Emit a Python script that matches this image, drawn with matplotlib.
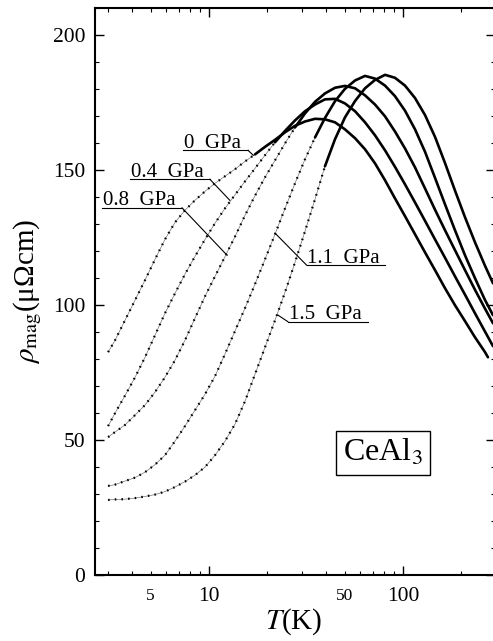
import matplotlib
matplotlib.use('Agg')
import matplotlib.pyplot as plt
from matplotlib.ticker import FixedLocator, FixedFormatter, NullFormatter

plt.rcParams['font.family'] = ['Liberation Serif', 'DejaVu Serif']
plt.rcParams['mathtext.fontset'] = 'stix'

# ---------------- data ----------------
T_grid = [3.02, 3.28, 3.69, 4.16, 4.68, 5.27, 5.93, 6.68, 7.52, 8.47, 9.54, 10.74,
          12.09, 13.61, 15.33, 17.26, 19.44, 21.89, 24.65, 27.76, 31.25, 35.2, 39.6,
          44.6, 50.2, 56.6, 63.7, 71.7, 80.8, 90.9, 102.4, 115.3, 129.8, 146.2, 164.6,
          185.3, 208.7, 235.0, 264.7, 291.0]
T_0GPa = T_grid[:-1] + [274.0]

rho_0GPa = [82.6, 87.0, 94.4, 101.9, 109.3, 117.0, 124.4, 130.7, 135.2, 138.9, 142.2,
            145.2, 147.8, 150.4, 153.3, 155.9, 158.7, 161.3, 164.1, 166.5, 168.1, 169.1,
            168.9, 167.8, 165.2, 161.9, 157.8, 152.6, 146.3, 139.6, 133.0, 126.3, 119.6,
            113.0, 106.3, 100.0, 94.1, 88.1, 82.6, 80.7]
rho_04GPa = [55.2, 60.0, 66.5, 73.3, 80.7, 88.9, 97.0, 104.4, 111.5, 118.1, 124.4, 130.4,
             135.9, 140.9, 145.9, 150.7, 155.6, 160.4, 164.6, 168.5, 171.9, 174.4, 176.3,
             176.5, 174.8, 171.9, 167.8, 163.0, 157.4, 151.3, 144.8, 138.1, 131.3, 124.4,
             117.6, 110.7, 103.9, 97.0, 90.2, 84.8]
rho_08GPa = [51.1, 53.0, 55.6, 59.3, 63.0, 67.8, 73.3, 79.6, 87.0, 95.2, 103.3, 110.7,
             118.0, 125.4, 133.3, 140.6, 147.4, 153.7, 160.0, 165.9, 171.1, 175.4, 178.5,
             180.6, 181.3, 180.4, 177.8, 174.4, 170.0, 164.4, 158.1, 151.1, 143.3, 135.4,
             127.8, 120.4, 113.0, 105.7, 98.7, 93.3]
rho_11GPa = [33.0, 33.5, 34.8, 36.1, 38.1, 40.9, 44.4, 49.6, 55.2, 61.1, 67.0, 73.7,
             81.9, 90.4, 98.9, 107.8, 117.0, 126.3, 135.9, 145.2, 154.1, 162.2, 169.4,
             175.6, 180.2, 183.3, 185.0, 184.0, 181.4, 177.5, 172.1, 165.2, 156.9, 147.2,
             137.4, 127.8, 118.5, 110.0, 101.9, 96.3]
rho_15GPa = [27.8, 28.0, 28.1, 28.5, 29.1, 29.8, 30.9, 32.6, 34.6, 37.0, 40.0, 44.4,
             49.6, 55.9, 64.4, 74.4, 84.4, 94.4, 104.8, 115.9, 127.4, 139.3, 151.5,
             161.5, 169.6, 175.7, 180.4, 183.5, 185.4, 184.3, 181.4, 176.8, 170.5, 162.4,
             152.7, 142.5, 132.6, 123.3, 114.6, 108.1]

pressures = ['0  GPa', '0.4  GPa', '0.8  GPa', '1.1  GPa', '1.5  GPa']
curves_T = [T_0GPa, T_grid, T_grid, T_grid, T_grid]
curves_rho = [rho_0GPa, rho_04GPa, rho_08GPa, rho_11GPa, rho_15GPa]
# temperature above which the curve is drawn as a continuous line
T_solid = [17.26, 21.89, 27.76, 35.2, 39.6]

x_major = [10, 100]
x_minor = [2, 3, 4, 5, 6, 7, 8, 9, 20, 30, 40, 50, 60, 70, 80, 90, 200]
x_minor_labels = ['', '', '', '5', '', '', '', '', '', '', '', '50', '', '', '', '', '']
y_major = [0, 50, 100, 150, 200]

# ---------------- figure ----------------
fig = plt.figure(figsize=(4.93, 6.41), dpi=100)
ax = fig.add_axes([0.1917, 0.1030, 0.8124, 0.8838])
ax.set_xscale('log')
ax.set_xlim(2.57, 298)
ax.set_ylim(0, 210)

for T, rho, ts in zip(curves_T, curves_rho, T_solid):
    Td = [t for t in T if t <= ts]
    rd = [r for t, r in zip(T, rho) if t <= ts]
    Ts = [t for t in T if t >= ts]
    rs = [r for t, r in zip(T, rho) if t >= ts]
    ax.plot(Td, rd, color='0.4', lw=0.45)
    ax.plot(Td, rd, color='black', lw=1.6, linestyle=(0, (0.7, 2.3)))
    ax.plot(Ts, rs, color='black', lw=1.9, solid_capstyle='round', solid_joinstyle='round')

# pressure labels: (T_left, T_right, rho_underline, leader_start_T, leader_end_T, leader_end_rho)
label_layout = [
    (7.35, 15.9, 157.4, 15.9, 16.9, 155.6),
    (3.92, 10.1, 146.7, 10.1, 12.8, 138.9),
    (2.81, 7.26, 136.1, 7.26, 12.4, 118.5),
    (31.9, 80.6, 114.8, 31.9, 21.9, 126.7),
    (25.5, 66.2, 93.9, 25.5, 22.7, 96.3),
]
for text, (tl, tr, ru, ls, le, re) in zip(pressures, label_layout):
    ax.annotate(text, xy=(tl, ru), xytext=(0.5, 1.8), textcoords='offset points',
                ha='left', va='baseline', fontsize=15)
    ax.plot([tl, tr], [ru, ru], color='black', lw=0.8)
    ax.plot([ls, le], [ru, re], color='black', lw=0.8)

ax.text(0.720, 0.215, r'CeAl$_3$', transform=ax.transAxes, ha='center', va='center',
        fontsize=23, bbox=dict(boxstyle='square,pad=0.22', fc='white', ec='black', lw=1.0))

# ticks
ax.xaxis.set_major_locator(FixedLocator(x_major))
ax.xaxis.set_major_formatter(FixedFormatter(['10', '100']))
ax.xaxis.set_minor_locator(FixedLocator(x_minor))
ax.xaxis.set_minor_formatter(FixedFormatter(x_minor_labels))
ax.yaxis.set_major_locator(FixedLocator(y_major))
ax.yaxis.set_minor_locator(FixedLocator(list(range(0, 211, 10))))
ax.yaxis.set_minor_formatter(NullFormatter())

ax.tick_params(which='both', direction='in', top=True, right=True, color='black')
ax.tick_params(which='major', length=6.5, width=1.0, labelsize=15.5)
ax.tick_params(which='minor', length=3.2, width=0.8)
ax.tick_params(axis='x', which='major', pad=8.5)
ax.tick_params(axis='x', which='minor', pad=9.5, labelsize=12.5)
ax.tick_params(axis='y', which='major', pad=6.5)

for s in ax.spines.values():
    s.set_linewidth(1.5)

ax.set_xlabel(r'$T$(K)', fontsize=21)
ax.xaxis.set_label_coords(0.498, -0.055)
ax.set_ylabel(r'$\rho_{\rm mag}$(μΩcm)', fontsize=21)
ax.yaxis.set_label_coords(-0.126, 0.5)

fig.savefig('out.png', dpi=100)
